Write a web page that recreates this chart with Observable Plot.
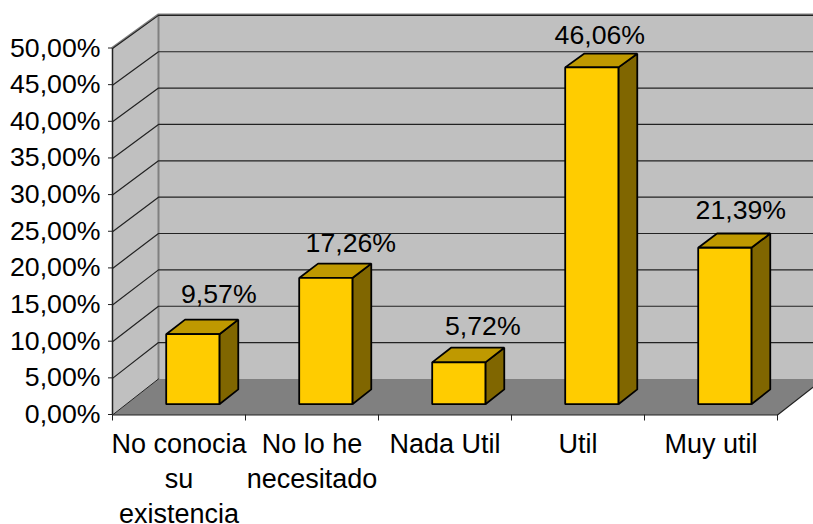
<!DOCTYPE html>
<html>
<head>
<meta charset="utf-8">
<script src="https://cdn.jsdelivr.net/npm/d3@7"></script>
<script src="https://cdn.jsdelivr.net/npm/@observablehq/plot@0.6"></script>
<style>
html,body{margin:0;padding:0;background:#fff}
svg{display:block}
</style>
</head>
<body>
<div id="chart"></div>
<script>
const categories = ["No conocia\nsu\nexistencia", "No lo he\nnecesitado", "Nada Util", "Util", "Muy util"];
const values = [9.57, 17.26, 5.72, 46.06, 21.39];
const yTicks = [0, 5, 10, 15, 20, 25, 30, 35, 40, 45, 50];
const labelDx = [26, 25, 24, 8, 16];
const labelDy = [-40, -35, -36, -32, -37];

const COLORS = {wall: "#c0c0c0", floor: "#808080", front: "#ffcc00", top: "#bf9900", side: "#806600"};
const FONT = 26.7;
const CATEGORY_FONT = 27;

// Oblique projection, in data units: c = category position, t = depth (0 front, 1 back), v = value
const DEPTH_X = 46 / 133;
const DEPTH_Y = 36 / 7.32;
const SHRINK = 0.008;
const P = (c, t, v) => ({x: c + t * DEPTH_X, y: v * (1 - SHRINK * t) + t * DEPTH_Y});

const face = (pts, fill, stroke, strokeWidth) =>
  Plot.line(pts, {x: "x", y: "y", fill, stroke: stroke || "none", strokeWidth: strokeWidth || 1,
    curve: "linear-closed", strokeLinejoin: "miter"});
const path = (pts, stroke, strokeWidth, extra) =>
  Plot.line(pts, {x: "x", y: "y", stroke, strokeWidth, curve: "linear", ...extra});

const BAR_W = 0.4, T0 = 0.3, T1 = 0.71;
const barMarks = values.flatMap((v, i) => {
  const a = i + 0.5 - BAR_W / 2, b = a + BAR_W;
  return [
    face([P(b, T0, 0), P(b, T1, 0), P(b, T1, v), P(b, T0, v)], COLORS.side, "#000", 1.8),
    face([P(a, T0, v), P(b, T0, v), P(b, T1, v), P(a, T1, v)], COLORS.top, "#000", 1.8),
    face([P(a, T0, 0), P(b, T0, 0), P(b, T0, v), P(a, T0, v)], COLORS.front, "#000", 1.8)
  ];
});

const fmt = d => d.toFixed(2).replace(".", ",") + "%";

const labelMarks = values.map((v, i) => {
  const p = P(i + 0.5, T0, v);
  return Plot.text([fmt(v)], {x: () => p.x, y: () => p.y, text: d => d, dx: labelDx[i], dy: labelDy[i],
    fontSize: FONT, fill: "#000", textAnchor: "middle", lineAnchor: "middle"});
});

const chart = Plot.plot({
  width: 813,
  height: 524,
  marginLeft: 112,
  marginRight: 36,
  marginTop: 48,
  marginBottom: 109.5,
  style: {fontFamily: "'Liberation Sans', Arial, sans-serif", background: "#fff", color: "#000"},
  x: {domain: [0, 5], axis: null},
  y: {domain: [0, 50], axis: null},
  marks: [
    // walls and floor
    face([P(0, 0, 0), P(0, 1, 0), P(0, 1, 50), P(0, 0, 50)], COLORS.wall),
    face([P(0, 1, 0), P(5, 1, 0), P(5, 1, 50), P(0, 1, 50)], COLORS.wall),
    face([P(0, 0, 0), P(5, 0, 0), P(5, 1, 0), P(0, 1, 0)], COLORS.floor),
    // wall edges
    path([P(0, 1, 0), P(0, 1, 50)], "#808080", 2),
    path([P(0, 0, 50), P(0, 1, 50), P(5, 1, 50)], "#808080", 2, {dy: -1}),
    // gridlines
    ...yTicks.filter(v => v > 0).map(v => path([P(0, 0, v), P(0, 1, v), P(5, 1, v)], "#222", 1.2)),
    // front edges
    path([P(0, 0, 0), P(0, 1, 0)], "#222", 1),
    path([P(5, 0, 0), P(5, 1, 0)], "#222", 1.2),
    Plot.ruleX([0], {y1: 0, y2: 50, stroke: "#222", strokeWidth: 1.5}),
    Plot.ruleY([0], {x1: 0, x2: 5, stroke: "#222", strokeWidth: 1.2}),
    // axes
    Plot.axisY({ticks: yTicks, tickFormat: fmt, tickSize: 4, tickPadding: 8, fontSize: FONT, stroke: "#222", label: null, dy: -0.5}),
    Plot.axisX({ticks: d3.range(0, 6), tickFormat: () => "", tickSize: 6, stroke: "#222", label: null}),
    Plot.text(categories, {x: (d, i) => i + 0.5, y: () => 0, text: d => d, fontSize: CATEGORY_FONT, lineHeight: 1.31,
      lineAnchor: "top", dy: 12.5, fill: "#000", textAnchor: "middle"}),
    ...barMarks,
    ...labelMarks
  ]
});
document.getElementById("chart").append(chart);
</script>
</body>
</html>
